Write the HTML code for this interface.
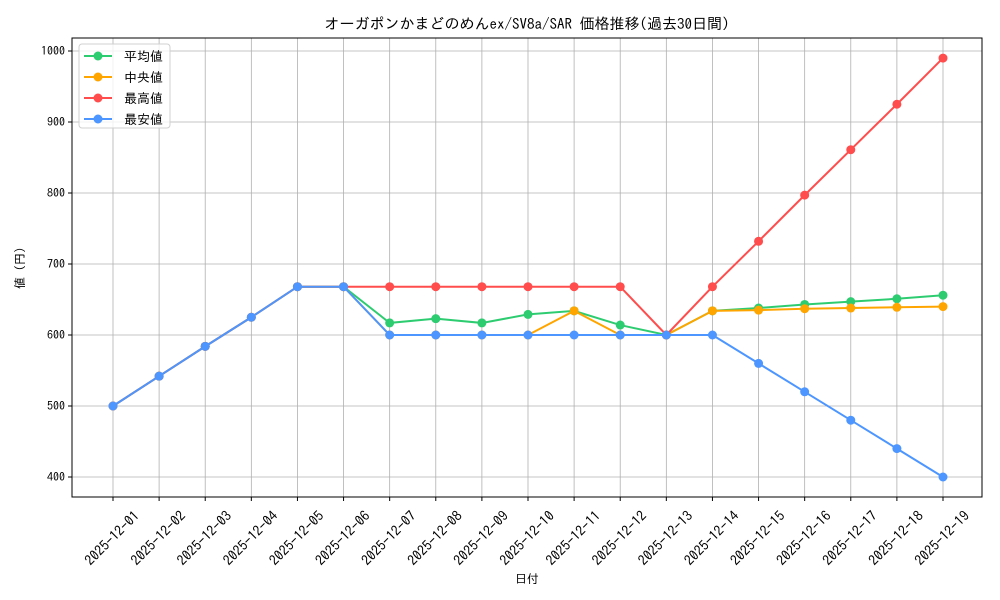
<!DOCTYPE html>
<html><head><meta charset="utf-8"><style>
html,body{margin:0;padding:0;background:#fff;}
svg{display:block;font-family:"IPAGothic","Noto Sans CJK JP",sans-serif;}
</style></head><body>
<svg id="s" width="1000" height="600" xmlns="http://www.w3.org/2000/svg"></svg>
<script>
const s=document.getElementById('s');
const L=72,R=982,T=38,B=497;
const X=i=>113+i*(943-113)/18;
const Y=v=>477-(v-400)*0.71;
let h='<rect width="1000" height="600" fill="#fff"/>';
for(let i=0;i<19;i++){const x=X(i);h+=`<line x1="${x}" y1="${T}" x2="${x}" y2="${B}" stroke="#b0b0b0" stroke-width="0.8"/>`;}
for(let v=400;v<=1000;v+=100){const y=Y(v);h+=`<line x1="${L}" y1="${y}" x2="${R}" y2="${y}" stroke="#b0b0b0" stroke-width="0.8"/>`;
h+=`<line x1="${L-4}" y1="${y}" x2="${L}" y2="${y}" stroke="#000"/><text x="${L-7}" y="${y+4}" font-size="12" text-anchor="end">${v}</text>`;}
for(let i=0;i<19;i++){const x=X(i);const day=String(i+1).padStart(2,'0');
h+=`<line x1="${x}" y1="${B}" x2="${x}" y2="${B+4}" stroke="#000"/>`;
h+=`<text font-size="14" text-anchor="middle" dominant-baseline="central" transform="translate(${x-1},${B+41}) rotate(-45)">2025-12-${day}</text>`;}
const ser=[
['#2ecc71',[500,542,584,625,668,668,617,623,617,629,634,614,600,634,638,643,647,651,656]],
['#ffa500',[500,542,584,625,668,668,600,600,600,600,634,600,600,634,635,637,638,639,640]],
['#ff4d4d',[500,542,584,625,668,668,668,668,668,668,668,668,600,668,732,797,861,925,990]],
['#4d96ff',[500,542,584,625,668,668,600,600,600,600,600,600,600,600,560,520,480,440,400]]];
for(const [c,vals] of ser){
h+=`<polyline fill="none" stroke="${c}" stroke-width="2" points="${vals.map((v,i)=>X(i)+','+Y(v)).join(' ')}"/>`;
vals.forEach((v,i)=>h+=`<circle cx="${X(i)}" cy="${Y(v)}" r="4.5" fill="${c}"/>`);}
h+=`<rect x="${L}" y="${T}" width="${R-L}" height="${B-T}" fill="none" stroke="#000" stroke-width="1"/>`;
h+=`<rect x="79" y="44" width="91" height="84" rx="3" fill="#fff" fill-opacity="0.8" stroke="#d0d0d0"/>`;
const names=['平均値','中央値','最高値','最安値'];
ser.forEach(([c],i)=>{const y=56+i*21;h+=`<line x1="84" y1="${y}" x2="112" y2="${y}" stroke="${c}" stroke-width="2"/><circle cx="98" cy="${y}" r="4.5" fill="${c}"/><text x="124" y="${y+5}" font-size="13">${names[i]}</text>`;});
h+=`<text x="527" y="29" font-size="15" text-anchor="middle">オーガポンかまどのめんex/SV8a/SAR 価格推移(過去30日間)</text>`;
h+=`<text x="527" y="583" font-size="12" text-anchor="middle">日付</text>`;
h+=`<text font-size="12" text-anchor="middle" transform="translate(24,268) rotate(-90)">値 (円)</text>`;
s.innerHTML=h;
</script>
</body></html>
